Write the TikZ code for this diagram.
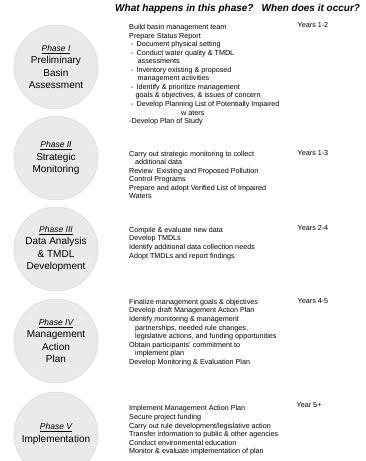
\documentclass[tikz,border=0pt]{standalone}
\usepackage{fontspec}
\setmainfont{Liberation Sans}
\usepackage{tikz}
\usetikzlibrary{positioning}

\definecolor{phasefill}{HTML}{EAEAEA}
\definecolor{phaseline}{HTML}{D2D2D2}
\newcommand{\phasetag}[1]{{\fontsize{8.5}{12.3}\selectfont\itshape\underline{#1}}}

\begin{document}
\begin{tikzpicture}[
    x=1pt, y=-1pt,
    phase/.style={circle, draw=phaseline, fill=phasefill, minimum size=84pt,
                  inner sep=0pt, align=center,
                  font=\fontsize{10}{12.3}\selectfont},
    tasks/.style={anchor=north west, inner sep=0pt, align=left,
                  font=\fontsize{7.2}{8.55}\selectfont},
    years/.style={anchor=base west, inner sep=0pt,
                  font=\fontsize{7.2}{8.55}\selectfont},
    heading/.style={anchor=base west, inner sep=0pt,
                    font=\fontsize{10}{11}\selectfont\bfseries\itshape}
  ]
  \useasboundingbox (0,0) rectangle (365,461);

  % Column headings
  \node[heading] (hdtasks) at (115, 11.5) {What happens in this phase?};
  \node[heading] (hdyears) at (261.5, 11.5) {When does it occur?};

  % Phases (top to bottom)
  \node[phase] (ph1) at (56, 67)
    {\phasetag{Phase I}\\Preliminary\\Basin\\Assessment};
  \node[phase] (ph2) at (56, 158)
    {\phasetag{Phase II}\\Strategic\\Monitoring};
  \node[phase] (ph3) at (56, 249)
    {\phasetag{Phase III}\\Data Analysis\\\& TMDL\\Development};
  \node[phase] (ph4) at (56, 341)
    {\phasetag{Phase IV}\\Management\\Action\\Plan};
  \node[phase] (ph5) at (56, 434)
    {\phasetag{Phase V}\\Implementation};

  % What happens
  \node[tasks] (tasks1) at (129, 24.1)
    {Build basin management team\\
     Prepare Status Report\\
     \hspace*{2pt}-\hspace{3pt}Document physical setting\\
     \hspace*{2pt}-\hspace{3pt}Conduct water quality \& TMDL\\
     \hspace*{8.5pt}assessments\\
     \hspace*{2pt}-\hspace{3pt}Inventory existing \& proposed\\
     \hspace*{8.5pt}management activities\\
     \hspace*{2pt}-\hspace{3pt}Identify \& prioritize management\\
     \hspace*{6.5pt}goals \& objectives, \& issues of concern\\
     \hspace*{2pt}-\hspace{3pt}Develop Planning List of Potentially Impaired\\
     \hspace*{52pt}w aters\\
     -Develop Plan of Study};
  \node[tasks] (tasks2) at (129, 150.7)
    {Carry out strategic monitoring to collect\\
     \hspace*{6pt}additional data\\
     Review\ \ Existing and Proposed Pollution\\
     Control Programs\\
     Prepare and adopt Verified List of Impaired\\
     Waters};
  \node[tasks] (tasks3) at (129, 227)
    {Compile \& evaluate new data\\
     Develop TMDLs\\
     Identify additional data collection needs\\
     Adopt TMDLs and report findings};
  \node[tasks] (tasks4) at (129, 299)
    {Finalize management goals \& objectives\\
     Develop draft Management Action Plan\\
     Identify monitoring \& management\\
     \hspace*{6pt}partnerships, needed rule changes,\\
     \hspace*{6pt}legislative actions, and funding opportunities\\
     Obtain participants' commitment to\\
     \hspace*{6pt}implement plan\\
     Develop Monitoring \& Evaluation Plan};
  \node[tasks] (tasks5) at (129, 405.5)
    {Implement Management Action Plan\\
     Secure project funding\\
     Carry out rule development/legislative action\\
     Transfer information to public \& other agencies\\
     Conduct environmental education\\
     Monitor \& evaluate implementation of plan};

  % When
  \node[years] (yr1) at (297.5, 27.6)  {Years 1-2};
  \node[years] (yr2) at (297.5, 155.6) {Years 1-3};
  \node[years] (yr3) at (297.5, 230.6) {Years 2-4};
  \node[years] (yr4) at (297.5, 303.6) {Years 4-5};
  \node[years] (yr5) at (296.5, 407.6) {Year 5+};
\end{tikzpicture}
\end{document}
